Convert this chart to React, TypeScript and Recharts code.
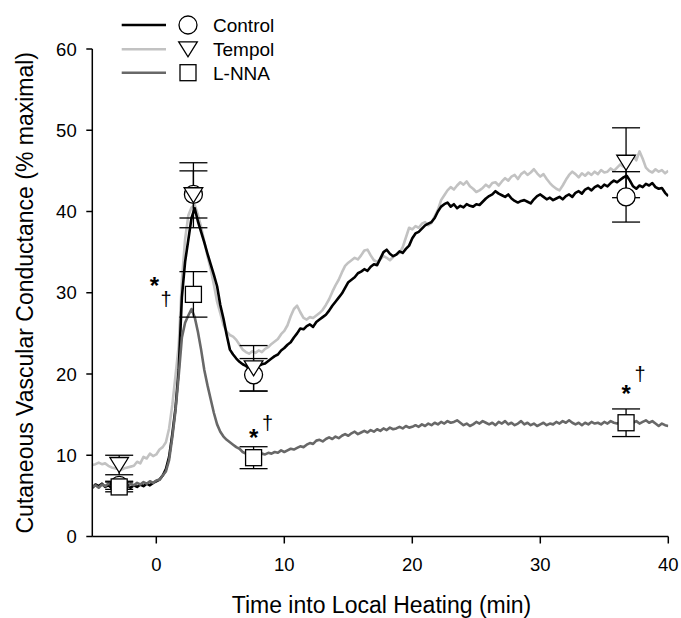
import { ComposedChart, Line, Scatter, ErrorBar, XAxis, YAxis } from "recharts";

// sample clock of the recordings (every 15 s)
const minutes = Array.from({ length: 181 }, (_, i) => -5 + i * 0.25);

const control = [
  6.0, 6.4, 6.2, 6.5, 6.1, 6.3, 6.0, 6.2, 6.3, 6.1, 5.9, 6.2, 6.0, 6.3, 6.1, 6.4, 6.2, 6.5, 6.3, 6.6,
  6.8, 7.0, 7.5, 8.3, 9.8, 12.6, 15.8, 20.5, 29.5, 33.8, 36.5, 39.2, 40.4, 38.8, 37.5, 36.2, 34.8, 33.5, 32.2, 30.8,
  28.5, 26.8, 24.8, 23.0, 22.4, 21.9, 21.5, 21.2, 21.0, 20.7, 20.9, 20.6, 21.0, 21.2, 21.3, 21.6, 21.9, 22.2, 22.4, 22.9,
  23.2, 23.6, 23.9, 24.5, 25.0, 25.6, 25.5, 25.9, 26.1, 25.8, 26.4, 26.7, 27.0, 27.3, 27.8, 28.4, 28.9, 29.4, 29.9, 30.6,
  31.3, 31.6, 31.9, 32.4, 32.6, 32.9, 32.7, 33.2, 33.5, 33.4, 34.2, 35.0, 35.3, 34.8, 34.5, 34.7, 35.1, 34.9, 35.4, 35.8,
  36.7, 37.3, 37.5, 37.9, 38.3, 38.5, 38.7, 39.2, 40.0, 40.6, 40.9, 41.1, 40.6, 40.9, 40.4, 40.7, 40.5, 40.9, 40.7, 40.6,
  40.9, 40.8, 41.2, 41.6, 41.9, 42.1, 42.5, 42.2, 42.0, 41.8, 42.1, 41.6, 41.3, 41.1, 41.3, 41.4, 41.2, 41.0, 41.5, 41.9,
  42.1, 41.8, 41.5, 41.7, 41.4, 41.6, 41.8, 41.5, 41.9, 42.1, 41.8, 42.3, 42.5, 42.2, 42.7, 42.9, 42.6, 43.0, 43.2, 42.9,
  43.3, 43.1, 43.5, 43.8, 43.6, 43.9, 44.2, 44.4, 43.8, 43.1, 42.8, 43.2, 43.0, 43.4, 43.2, 43.5, 43.0, 42.8, 42.9, 42.3,
  41.9,
];

const tempol = [
  8.8, 8.9, 9.1, 8.9, 9.0, 8.7, 8.5, 8.4, 8.3, 8.2, 8.4, 8.5, 8.6, 8.7, 9.2, 9.0, 9.8, 9.6, 10.2, 9.9,
  10.1, 10.7, 11.0, 11.6, 13.3, 16.2, 19.8, 23.5, 31.5, 36.6, 39.5, 40.5, 40.8, 39.6, 38.1, 36.3, 34.5, 32.9, 31.0, 28.9,
  27.5, 26.0, 25.2, 24.8, 24.6, 24.2, 23.6, 23.0, 22.7, 22.5, 22.8, 22.6, 22.9, 22.7, 23.1, 23.3, 23.7, 24.0, 24.3, 24.9,
  25.3, 26.0, 27.1, 28.0, 28.4, 27.6, 26.9, 26.7, 27.0, 26.9, 27.2, 27.5, 27.9, 28.5, 29.2, 30.1, 30.9, 31.6, 32.5, 33.3,
  33.7, 34.0, 34.3, 34.1, 34.6, 35.2, 35.3, 34.6, 34.0, 33.8, 34.1, 34.5, 34.3, 34.0, 34.4, 34.7, 34.9, 35.6, 36.8, 38.0,
  37.8, 38.2, 38.0, 38.5, 38.7, 38.3, 38.6, 39.4, 40.2, 41.4, 42.0, 42.6, 43.0, 42.7, 43.2, 43.6, 43.3, 43.7, 43.1, 42.8,
  42.4, 42.6, 42.9, 43.3, 43.0, 43.5, 43.6, 43.2, 43.7, 44.1, 43.8, 44.3, 44.5, 44.0, 44.6, 44.9, 44.5, 44.8, 45.2, 44.7,
  44.3, 44.6, 44.0, 43.5, 43.1, 42.8, 42.6, 43.2, 43.9, 44.5, 44.9, 44.6, 44.2, 44.7, 44.4, 44.8, 44.5, 44.9, 44.6, 45.1,
  44.8, 44.9, 45.3, 45.0, 45.4, 45.8, 45.5, 45.9, 46.6, 46.9, 46.3, 47.4, 46.5, 45.4, 45.0, 44.8, 45.2, 44.9, 45.1, 44.7,
  45.0,
];

const lnna = [
  6.1, 6.3, 6.0, 6.4, 6.2, 6.5, 6.3, 6.1, 6.0, 6.2, 6.4, 6.1, 6.5, 6.3, 6.6, 6.4, 6.7, 6.5, 6.8, 6.6,
  6.9, 7.0, 7.5, 8.0, 9.4, 12.2, 15.5, 19.8, 24.5, 26.3, 27.2, 28.0, 27.0, 25.2, 23.0, 20.5, 18.6, 16.9, 15.2, 13.8,
  12.9, 12.3, 11.9, 11.6, 11.3, 11.0, 10.8, 10.4, 10.2, 10.0, 9.9, 10.0, 10.1, 10.2, 10.1, 10.3, 10.2, 10.4, 10.3, 10.6,
  10.4, 10.6, 10.8, 10.7, 10.9, 11.1, 11.0, 11.3, 11.5, 11.4, 11.8, 11.9, 11.7, 12.0, 12.2, 12.0, 12.3, 12.1, 12.4, 12.6,
  12.4, 12.7, 12.9, 12.6, 12.8, 13.0, 12.8, 13.1, 12.9, 13.2, 13.0, 13.3, 13.1, 13.4, 13.2, 13.3, 13.5, 13.3, 13.6, 13.4,
  13.5, 13.7, 13.5, 13.8, 13.6, 13.9, 13.7, 14.0, 13.8, 14.1, 13.9, 14.2, 14.0, 14.1, 14.3, 14.0, 13.7, 13.9, 13.6, 13.8,
  14.1, 13.9, 14.2, 14.0, 13.8, 14.0, 13.7, 14.1, 13.9, 14.2, 13.8, 14.0, 13.7, 13.9, 14.2, 13.8, 14.0, 13.7, 13.9, 13.6,
  13.8, 14.0, 13.7, 13.9, 13.8, 14.1, 13.9, 14.2, 14.0, 14.3, 14.0, 13.8, 14.0, 13.7, 14.0, 13.8, 14.1, 13.9, 14.0, 13.8,
  14.1, 13.9, 14.2, 14.0, 13.9, 14.1, 14.0, 14.0, 13.8, 14.0, 14.2, 13.9, 14.1, 14.3, 14.0, 14.2, 13.9, 13.6, 13.9, 13.7,
  13.6,
];

// group means +/- SE at the analysis time points
const markerMinutes = [-2.9, 2.9, 7.6, 36.7];
const controlMean = [6.3, 42.1, 19.9, 41.8];
const controlSe = [0.5, 2.9, 2.0, 3.1];
const tempolMean = [8.8, 42.0, 20.7, 46.0];
const tempolSe = [1.2, 4.0, 2.8, 4.3];
const lnnaMean = [6.1, 29.8, 9.7, 14.0];
const lnnaSe = [0.6, 2.8, 1.35, 1.7];

// significance marks (* vs control, † vs tempol)
const noteMinutes = [-0.15, 0.76, 7.6, 8.7, 36.7, 37.8];
const noteValues = [31.4, 29.1, 12.7, 13.9, 18.2, 19.9];
const noteMarks = ["*", "†", "*", "†", "*", "†"];

const xTicks = [0, 10, 20, 30, 40];
const yTicks = [0, 10, 20, 30, 40, 50, 60];

const FONT = "'Liberation Sans', Arial, sans-serif";
const BLACK = "#000000";
const LIGHT = "#c2c2c2";
const DARK = "#686868";

const table = minutes.map((t, i) => ({
  time: t,
  control: control[i],
  tempol: tempol[i],
  lnna: lnna[i],
}));

const points = (means: number[], se: number[]) =>
  markerMinutes.map((t, i) => ({ time: t, mean: means[i], se: se[i] }));

const notes = noteMinutes.map((t, i) => ({ time: t, y: noteValues[i], mark: noteMarks[i] }));

const CircleMark = ({ cx, cy }: any) => (
  <circle cx={cx} cy={cy} r={9} fill="#fff" stroke="#000" strokeWidth={1.3} />
);

const TriangleMark = ({ cx, cy }: any) => (
  <polygon
    points={`${cx - 9.3},${cy - 7.5} ${cx + 9.3},${cy - 7.5} ${cx},${cy + 7.5}`}
    fill="#fff"
    stroke="#000"
    strokeWidth={1.3}
    strokeLinejoin="miter"
  />
);

const SquareMark = ({ cx, cy }: any) => (
  <rect x={cx - 8} y={cy - 8} width={16} height={16} fill="#fff" stroke="#000" strokeWidth={1.3} />
);

const NoteMark = ({ cx, cy, payload }: any) => {
  const star = payload.mark === "*";
  return (
    <text
      x={cx}
      y={cy}
      dy={star ? 13 : 6}
      textAnchor="middle"
      fontFamily={FONT}
      fontSize={star ? 24 : 20}
      fontWeight={star ? 700 : 400}
      fill="#000"
    >
      {payload.mark}
    </text>
  );
};

const legendRows = [
  { name: "Control", color: BLACK, y: 25 },
  { name: "Tempol", color: LIGHT, y: 49.3 },
  { name: "L-NNA", color: DARK, y: 72.7 },
];

const axisStroke = { stroke: "#000", strokeWidth: 1.5 };
const tickStyle = { fill: "#000", fontSize: 18.5, fontFamily: FONT };

export default function App() {
  return (
    <div
      style={{
        position: "absolute",
        left: 0,
        top: 0,
        width: 681,
        height: 618,
        background: "#fff",
        fontFamily: FONT,
      }}
    >
      <ComposedChart
        width={681}
        height={618}
        data={table}
        margin={{ top: 49, right: 12.7, bottom: 0, left: 0 }}
      >
        <XAxis
          dataKey="time"
          type="number"
          domain={[-5, 40]}
          ticks={xTicks}
          allowDataOverflow
          height={81.5}
          tickSize={7}
          tickMargin={14}
          axisLine={axisStroke}
          tickLine={axisStroke}
          tick={tickStyle}
        />
        <YAxis
          type="number"
          domain={[0, 60]}
          ticks={yTicks}
          allowDataOverflow
          width={92.3}
          tickSize={6}
          tickMargin={9.6}
          axisLine={axisStroke}
          tickLine={axisStroke}
          tick={tickStyle}
        />
        <Line dataKey="tempol" stroke={LIGHT} strokeWidth={2.6} dot={false} activeDot={false} isAnimationActive={false} strokeLinejoin="round" />
        <Line dataKey="control" stroke={BLACK} strokeWidth={2.6} dot={false} activeDot={false} isAnimationActive={false} strokeLinejoin="round" />
        <Line dataKey="lnna" stroke={DARK} strokeWidth={2.6} dot={false} activeDot={false} isAnimationActive={false} strokeLinejoin="round" />
        <Scatter data={points(controlMean, controlSe)} dataKey="mean" shape={CircleMark} isAnimationActive={false}>
          <ErrorBar dataKey="se" direction="y" width={14} stroke="#000" strokeWidth={1.3} isAnimationActive={false} />
        </Scatter>
        <Scatter data={points(tempolMean, tempolSe)} dataKey="mean" shape={TriangleMark} isAnimationActive={false}>
          <ErrorBar dataKey="se" direction="y" width={14} stroke="#000" strokeWidth={1.3} isAnimationActive={false} />
        </Scatter>
        <Scatter data={points(lnnaMean, lnnaSe)} dataKey="mean" shape={SquareMark} isAnimationActive={false}>
          <ErrorBar dataKey="se" direction="y" width={14} stroke="#000" strokeWidth={1.3} isAnimationActive={false} />
        </Scatter>
        <Scatter data={notes} dataKey="y" shape={NoteMark} isAnimationActive={false} />
      </ComposedChart>

      <svg
        width={681}
        height={618}
        style={{ position: "absolute", left: 0, top: 0, pointerEvents: "none" }}
      >
        <text x={381.5} y={613} textAnchor="middle" fontSize={23} fontFamily={FONT} fill="#000">
          Time into Local Heating (min)
        </text>
        <text
          transform="translate(33,292.75) rotate(-90)"
          textAnchor="middle"
          fontSize={23}
          fontFamily={FONT}
          fill="#000"
        >
          Cutaneous Vascular Conductance (% maximal)
        </text>
        {legendRows.map((row) => (
          <g key={row.name}>
            <line x1={121.7} x2={166} y1={row.y} y2={row.y} stroke={row.color} strokeWidth={2.6} />
            {row.name === "Control" && <CircleMark cx={188} cy={row.y} />}
            {row.name === "Tempol" && <TriangleMark cx={188} cy={row.y} />}
            {row.name === "L-NNA" && <SquareMark cx={188} cy={row.y} />}
            <text x={213} y={row.y + 6.8} fontSize={19} fontFamily={FONT} fill="#000">
              {row.name}
            </text>
          </g>
        ))}
      </svg>
    </div>
  );
}
